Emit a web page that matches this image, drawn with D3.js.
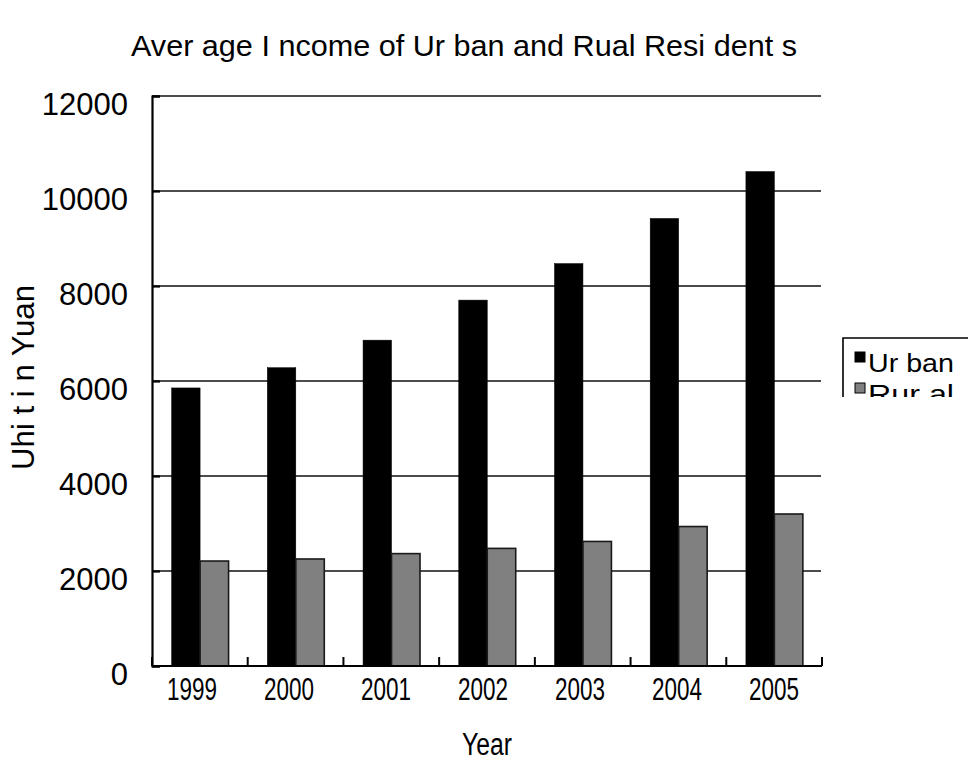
<!DOCTYPE html>
<html>
<head>
<meta charset="utf-8">
<script src="https://cdn.jsdelivr.net/npm/d3@7"></script>
<style>
  html, body { margin: 0; padding: 0; background: #fff; }
  svg { display: block; }
  text { font-family: "Liberation Sans", Arial, sans-serif; fill: #000; }
</style>
</head>
<body>
<svg id="chart" width="968" height="776"></svg>
<script>
// Average income per resident, yuan
const years = ["1999", "2000", "2001", "2002", "2003", "2004", "2005"];
const seriesNames = ["Urban", "Rural"];
const legendLabels = ["Ur ban", "Rur al"];
const urbanIncome = [5854, 6280, 6860, 7703, 8472, 9422, 10410];
const ruralIncome = [2210, 2253, 2366, 2476, 2622, 2936, 3200];
const yTicks = [0, 2000, 4000, 6000, 8000, 10000, 12000];
const seriesFill = ["#000000", "#808080"];

const svg = d3.select("#chart");
const plot = { left: 152, right: 822, top: 96, bottom: 666 };

const x = d3.scaleBand().domain(years).range([plot.left, plot.right]).padding(0);
const xInner = d3.scaleBand().domain(seriesNames)
  .range([x.bandwidth() * 0.205, x.bandwidth() * 0.8]).padding(0);
const y = d3.scaleLinear().domain([0, 12000]).range([plot.bottom, plot.top]);
// category labels sit on their own slightly wider spread
const xLabel = d3.scalePoint().domain(years).range([192, 774]);

// Title (narrow, stretched lettering)
svg.append("text")
  .attr("x", 131).attr("y", 56)
  .attr("font-size", 30)
  .attr("textLength", 666).attr("lengthAdjust", "spacingAndGlyphs")
  .text("Aver age I ncome of Ur ban and Rual Resi dent s");

// Horizontal gridlines
svg.append("g").selectAll("line")
  .data(yTicks.filter(d => d > 0))
  .join("line")
  .attr("x1", plot.left).attr("x2", plot.right - 1)
  .attr("y1", d => y(d)).attr("y2", d => y(d))
  .attr("stroke", "#111").attr("stroke-width", 1.6);

// Bars
const rows = years.map((yr, i) => ({ year: yr, values: [urbanIncome[i], ruralIncome[i]] }));
const groups = svg.append("g").selectAll("g")
  .data(rows).join("g")
  .attr("transform", d => `translate(${x(d.year)},0)`);
groups.selectAll("rect")
  .data(d => d.values.map((v, k) => ({ key: seriesNames[k], value: v, k })))
  .join("rect")
  .attr("x", d => xInner(d.key))
  .attr("width", xInner.bandwidth())
  .attr("y", d => y(d.value))
  .attr("height", d => y(0) - y(d.value))
  .attr("fill", d => seriesFill[d.k])
  .attr("stroke", d => d.k === 1 ? "#1a1a1a" : "#000")
  .attr("stroke-width", d => d.k === 1 ? 1.6 : 0.5);

// Y axis
const yAxis = svg.append("g")
  .attr("transform", `translate(${plot.left},0)`)
  .call(d3.axisLeft(y).tickValues(yTicks).tickSize(-8).tickPadding(24).tickFormat(d3.format("d")));
yAxis.select(".domain").attr("stroke", "#000").attr("stroke-width", 2.2);
yAxis.selectAll(".tick line").attr("stroke", "#000").attr("stroke-width", 2.2);
yAxis.selectAll(".tick text")
  .attr("font-size", 31)
  .attr("dy", null)
  .attr("y", 18);

// X axis: ticks at category boundaries, labels under groups
const xAxisG = svg.append("g").attr("transform", `translate(0,${plot.bottom})`);
xAxisG.append("line")
  .attr("x1", plot.left).attr("x2", plot.right)
  .attr("stroke", "#000").attr("stroke-width", 2.2);
const boundaries = years.map(d => x(d)).concat([plot.right]);
xAxisG.selectAll("line.tick")
  .data(boundaries).join("line").attr("class", "tick")
  .attr("x1", d => d).attr("x2", d => d)
  .attr("y1", 0).attr("y2", -9)
  .attr("stroke", "#000").attr("stroke-width", 2);
xAxisG.selectAll("text")
  .data(years).join("text")
  .attr("x", d => xLabel(d) - 25)
  .attr("y", 34)
  .attr("font-size", 32)
  .attr("textLength", 50).attr("lengthAdjust", "spacingAndGlyphs")
  .text(d => d);

// Axis titles
svg.append("text")
  .attr("x", 462).attr("y", 755)
  .attr("font-size", 31)
  .attr("textLength", 50).attr("lengthAdjust", "spacingAndGlyphs")
  .text("Year");

svg.append("text")
  .attr("transform", "translate(34,470) rotate(-90)")
  .attr("font-size", 31)
  .attr("textLength", 185).attr("lengthAdjust", "spacingAndGlyphs")
  .text("Uhi t i n Yuan");

// Legend (box runs off the right edge; content clipped to the box)
const legend = svg.append("g");
svg.append("clipPath").attr("id", "legendClip")
  .append("rect").attr("x", 843).attr("y", 338).attr("width", 130).attr("height", 59);
legend.append("path")
  .attr("d", "M843,397V338H968")
  .attr("fill", "none").attr("stroke", "#000").attr("stroke-width", 1.6);
const items = legend.append("g").attr("clip-path", "url(#legendClip)");
seriesNames.forEach((name, k) => {
  const top = 352 + k * 31;
  items.append("rect")
    .attr("x", 855).attr("y", top).attr("width", 10).attr("height", 10)
    .attr("fill", seriesFill[k]).attr("stroke", "#000").attr("stroke-width", 1);
  items.append("text")
    .attr("x", 868).attr("y", top + 20)
    .attr("font-size", 25)
    .attr("textLength", 86).attr("lengthAdjust", "spacingAndGlyphs")
    .text(legendLabels[k]);
});
</script>
</body>
</html>
